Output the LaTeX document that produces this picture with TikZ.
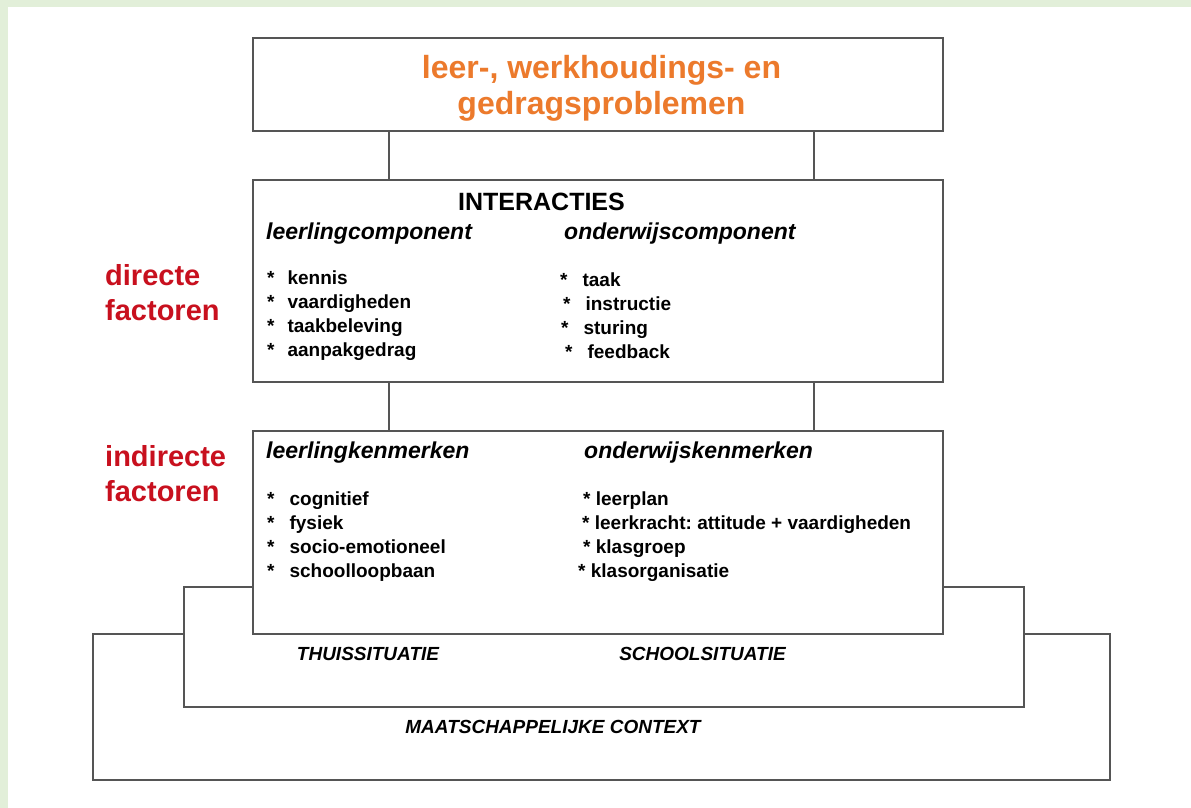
\documentclass[tikz,border=0pt]{standalone}
\usepackage{fontspec}
\setmainfont{Liberation Sans}
\frenchspacing
\definecolor{proborange}{HTML}{EC7A2C}
\definecolor{factred}{HTML}{C8101E}
\definecolor{framegray}{HTML}{555555}
\definecolor{pagegreen}{HTML}{E2EFD9}

\begin{document}
\begin{tikzpicture}[x=1pt,y=-1pt,
  box/.style={draw=framegray,line width=1.6pt,fill=white,inner sep=0pt},
  conn/.style={draw=framegray,line width=1.6pt},
  head/.style={inner sep=0pt,anchor=west,font=\fontsize{23}{27}\selectfont\bfseries\itshape},
  items/.style={inner sep=0pt,anchor=west,align=left,font=\fontsize{19}{24}\selectfont\bfseries},
  side/.style={inner sep=0pt,anchor=west,align=left,text=factred,font=\fontsize{29}{35}\selectfont\bfseries},
  ctx/.style={inner sep=0pt,font=\fontsize{19}{22}\selectfont\bfseries\itshape}
]
\useasboundingbox (0,0) rectangle (1191,808);
\fill[pagegreen] (0,0) rectangle (1191,808);
\fill[white] (8,7) rectangle (1191,808);

% context layers, back to front
\node[box,minimum width=1017pt,minimum height=146pt] (context) at (601.5,707) {};
\node[box,minimum width=840pt,minimum height=120pt] (situatie) at (604,647) {};
\node[box,minimum width=690pt,minimum height=203pt] (kenm) at (598,532.5) {};
\node[box,minimum width=690pt,minimum height=202pt] (inter) at (598,281) {};
\node[box,minimum width=690pt,minimum height=93pt] (prob) at (598,84.5) {};
\node[inner sep=0pt,align=center,text=proborange,font=\fontsize{32}{36}\selectfont\bfseries]
  (probtitle) at (601.5,88) {leer-, werkhoudings- en\\gedragsproblemen};

\coordinate (linksx) at (389,0);
\coordinate (rechtsx) at (814,0);
\draw[conn] (prob.south -| linksx) -- (inter.north -| linksx);
\draw[conn] (prob.south -| rechtsx) -- (inter.north -| rechtsx);
\draw[conn] (inter.south -| linksx) -- (kenm.north -| linksx);
\draw[conn] (inter.south -| rechtsx) -- (kenm.north -| rechtsx);

% interacties
\node[inner sep=0pt,font=\fontsize{25}{28}\selectfont\bfseries] (intertitle) at (541.5,202) {INTERACTIES};
\node[head] (leercomp) at (266,234) {leerlingcomponent};
\node[head] (ondcomp) at (564,234) {onderwijscomponent};
\node[items] (leerlist) at (267,316) {*\hspace{13pt}kennis\\*\hspace{13pt}vaardigheden\\*\hspace{13pt}taakbeleving\\*\hspace{13pt}aanpakgedrag};
\node[items] (ondlist) at (560,316) {*\hspace{15pt}taak\\\hspace*{3pt}*\hspace{15pt}instructie\\\hspace*{1pt}*\hspace{15pt}sturing\\\hspace*{5pt}*\hspace{15pt}feedback};

% kenmerken
\node[head] (leerkenm) at (266,453) {leerlingkenmerken};
\node[head] (ondkenm) at (584,453) {onderwijskenmerken};
\node[items] (leerklist) at (267,537) {*\hspace{15pt}cognitief\\*\hspace{15pt}fysiek\\*\hspace{15pt}socio-emotioneel\\*\hspace{15pt}schoolloopbaan};
\node[items] (ondklist) at (578,537) {\hspace*{5pt}* leerplan\\\hspace*{4pt}* leerkracht: attitude + vaardigheden\\\hspace*{5pt}* klasgroep\\* klasorganisatie};

% factoren
\node[side] (direct) at (105,293) {directe\\factoren};
\node[side] (indirect) at (105,474) {indirecte\\factoren};

% situaties
\node[ctx] (thuis) at (368,654) {THUISSITUATIE};
\node[ctx] (school) at (702.5,654) {SCHOOLSITUATIE};
\node[ctx] (maatsch) at (553,727) {MAATSCHAPPELIJKE CONTEXT};
\end{tikzpicture}
\end{document}
